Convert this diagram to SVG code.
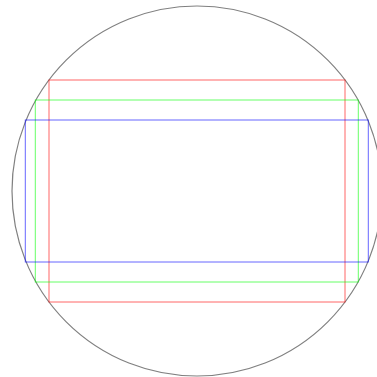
<svg xmlns="http://www.w3.org/2000/svg" width="377" height="377" viewBox="0 0 377 377">
<style>
.c{fill:none;stroke:#808080;stroke-width:1.2}
.r{fill:none;stroke-width:1;stroke-opacity:0.6}
</style>
<rect width="377" height="377" fill="#fff"/>
<g id="circle"><circle class="c" cx="197" cy="191" r="185"/></g>
<g id="red"><rect class="r" stroke="#f00" x="49" y="80" width="296" height="222"/></g>
<g id="green"><rect class="r" stroke="#0f0" x="35.3" y="100" width="323" height="182"/></g>
<g id="blue"><rect class="r" stroke="#00f" x="25.3" y="120" width="343" height="142"/></g>
</svg>
